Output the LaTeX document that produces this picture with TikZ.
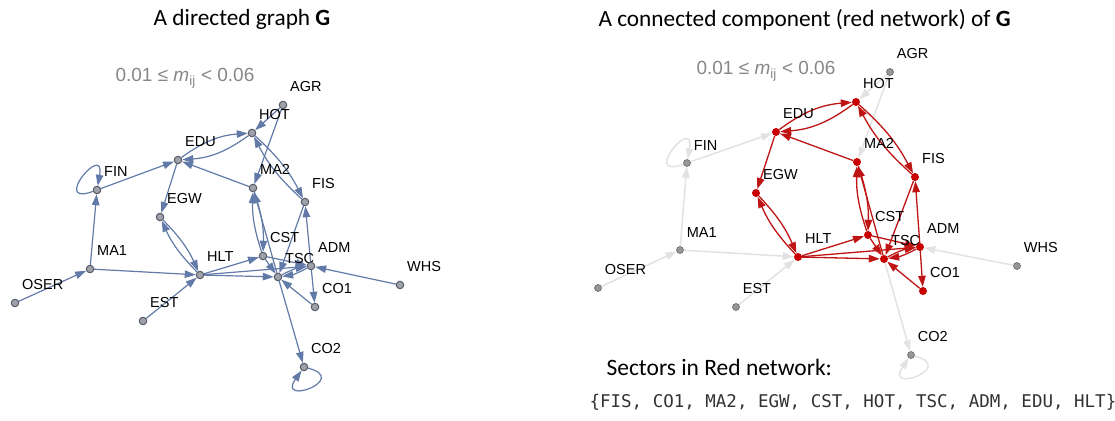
\documentclass[tikz,border=0pt]{standalone}
\usepackage{fontspec}
\setmainfont{Carlito}
\newfontfamily\labelfont{Liberation Sans}
\newfontfamily\codefont{DejaVu Sans Mono}
\usetikzlibrary{arrows.meta,backgrounds}
\definecolor{nodefill}{RGB}{160,162,170}
\definecolor{nodeline}{RGB}{85,90,105}
\definecolor{blueedge}{RGB}{98,122,168}
\definecolor{rededge}{RGB}{190,20,20}
\definecolor{rednode}{RGB}{200,0,0}
\definecolor{greyedge}{RGB}{226,226,226}
\definecolor{greynode}{RGB}{150,150,150}
\definecolor{rangetext}{RGB}{135,135,135}
\definecolor{codetext}{RGB}{50,50,50}
\tikzset{
% Sector labels sit up and to the right of each node
sector label/.style={anchor=south west,inner sep=0,xshift=4pt,yshift=10pt,font=\labelfont\fontsize{14.5}{16}\selectfont},
% Node styles: blue graph, red network, greyed out
blue node/.style={circle,draw=nodeline,fill=nodefill,line width=1pt,inner sep=0,minimum size=7.5pt,label={[sector label]north east:#1}},
red node/.style={circle,fill=rednode,inner sep=0,minimum size=8pt,label={[sector label]north east:#1}},
grey node/.style={circle,draw=greynode!70!black,fill=greynode,line width=0.6pt,inner sep=0,minimum size=7pt,label={[sector label]north east:#1}},
% Edge styles for the three kinds of links
blue edge/.style={draw=blueedge,line width=1.2pt,-{Triangle[length=11pt,width=7.5pt]}},
red edge/.style={draw=rededge,line width=1.3pt,-{Triangle[length=11pt,width=7.5pt]}},
grey edge/.style={draw=greyedge,line width=1.5pt,-{Triangle[length=11pt,width=7.5pt]}}
}

\begin{document}
\begin{tikzpicture}[x=1pt,y=1pt]
      \useasboundingbox (0,0) rectangle (1115,420);
      % Titles and range notes
      \node (ltitle) at (242,394) [anchor=base,font=\fontsize{23.3}{28}\selectfont] {A directed graph \textbf{G}};
      \node (rtitle) at (595,393) [anchor=base west,font=\fontsize{23.3}{28}\selectfont] {A connected component (red network) of \textbf{G}};
      \node (lrange) at (112,338) [anchor=base west,text=rangetext,font=\labelfont\fontsize{19}{21}\selectfont] {0.01 ≤ \textit{m}\textsubscript{ij} < 0.06};
      \node (rrange) at (693,345) [anchor=base west,text=rangetext,font=\labelfont\fontsize{19}{21}\selectfont] {0.01 ≤ \textit{m}\textsubscript{ij} < 0.06};
      \node (sectors) at (603,45) [anchor=base west,font=\fontsize{23.5}{28}\selectfont] {Sectors in Red network:};
      \node (sectorlist) at (586,13) [anchor=base west,text=codetext,font=\codefont\fontsize{17.5}{20}\selectfont] {\{FIS, CO1, MA2, EGW, CST, HOT, TSC, ADM, EDU, HLT\}};
      % Left graph: the sectors
      \node (lagr) at (283,315) [blue node=AGR] {};
      \node (lhot) at (252,287) [blue node=HOT] {};
      \node (ledu) at (178,260) [blue node=EDU] {};
      \node (lfin) at (97,230) [blue node=FIN] {};
      \node (lma2) at (253,232) [blue node=MA2] {};
      \node (lfis) at (305,218) [blue node=FIS] {};
      \node (legw) at (160,203) [blue node=EGW] {};
      \node (lma1) at (90,151) [blue node=MA1] {};
      \node (loser) at (15,117) [blue node=OSER] {};
      \node (lest) at (143,99) [blue node=EST] {};
      \node (lhlt) at (200,145) [blue node=HLT] {};
      \node (lcst) at (263,164) [blue node=CST] {};
      \node (ltsc) at (278,143) [blue node=TSC] {};
      \node (ladm) at (311,154) [blue node=ADM] {};
      \node (lco1) at (315,113) [blue node=CO1] {};
      \node (lwhs) at (400,135) [blue node=WHS] {};
      \node (lco2) at (304,53) [blue node=CO2] {};
      % Right graph: the sectors, red network filled red
      \node (ragr) at (890,348) [grey node=AGR] {};
      \node (rhot) at (856,318) [red node=HOT] {};
      \node (redu) at (776,288) [red node=EDU] {};
      \node (rfin) at (687,257) [grey node=FIN] {};
      \node (rma2) at (857,258) [red node=MA2] {};
      \node (rfis) at (915,243) [red node=FIS] {};
      \node (regw) at (756,227) [red node=EGW] {};
      \node (rma1) at (680,170) [grey node=MA1] {};
      \node (roser) at (598,132) [grey node=OSER] {};
      \node (rest) at (736,113) [grey node=EST] {};
      \node (rhlt) at (798,163) [red node=HLT] {};
      \node (rcst) at (868,185) [red node=CST] {};
      \node (rtsc) at (884,161) [red node=TSC] {};
      \node (radm) at (920,173) [red node=ADM] {};
      \node (rco1) at (923,129) [red node=CO1] {};
      \node (rwhs) at (1017,154) [grey node=WHS] {};
      \node (rco2) at (911,65) [grey node=CO2] {};
      \begin{scope}[on background layer]
      % Left graph: the links
      \foreach \from/\to in {loser/lma1,lma1/lfin,lma1/lhlt,lfin/ledu,lest/lhlt,lagr/lhot,lagr/lma2,lma2/ledu,ledu/legw,lhlt/lcst,lhlt/ltsc,lhlt/ladm,ltsc/lma2,ladm/lfis,lfis/ltsc,ladm/lco1,lco1/ltsc,lcst/ltsc,lcst/ladm,lwhs/ladm,ltsc/lco2}
        \draw[blue edge] (\from) -- (\to);
      \foreach \from/\to in {lhot/lfis,lfis/lhot,legw/lhlt,lhlt/legw,lcst/lma2,lma2/lcst,ltsc/ladm,ladm/ltsc}
        \draw[blue edge] (\from) to[bend left=10] (\to);
      \draw[blue edge] (ledu) to[bend left=16] (lhot);
      \draw[blue edge] (lhot) to[bend left=16] (ledu);
      \draw[blue edge] (lfin) .. controls +(200:50) and +(80:50) .. (lfin);
      \draw[blue edge] (lco2) .. controls +(-15:48) and +(235:48) .. (lco2);
      % Right graph: links outside the red network first
      \foreach \from/\to in {roser/rma1,rma1/rfin,rma1/rhlt,rfin/redu,rest/rhlt,ragr/rhot,ragr/rma2,rwhs/radm,rtsc/rco2}
        \draw[grey edge] (\from) -- (\to);
      \draw[grey edge] (rfin) .. controls +(200:50) and +(80:50) .. (rfin);
      \draw[grey edge] (rco2) .. controls +(-15:48) and +(235:48) .. (rco2);
      % Right graph: the red network
      \foreach \from/\to in {rma2/redu,redu/regw,rhlt/rcst,rhlt/rtsc,rhlt/radm,rtsc/rma2,radm/rfis,rfis/rtsc,radm/rco1,rco1/rtsc,rcst/rtsc,rcst/radm}
        \draw[red edge] (\from) -- (\to);
      \foreach \from/\to in {rhot/rfis,rfis/rhot,regw/rhlt,rhlt/regw,rcst/rma2,rma2/rcst,rtsc/radm,radm/rtsc}
        \draw[red edge] (\from) to[bend left=10] (\to);
      \draw[red edge] (redu) to[bend left=16] (rhot);
      \draw[red edge] (rhot) to[bend left=16] (redu);
      \end{scope}
    \end{tikzpicture}
\end{document}
